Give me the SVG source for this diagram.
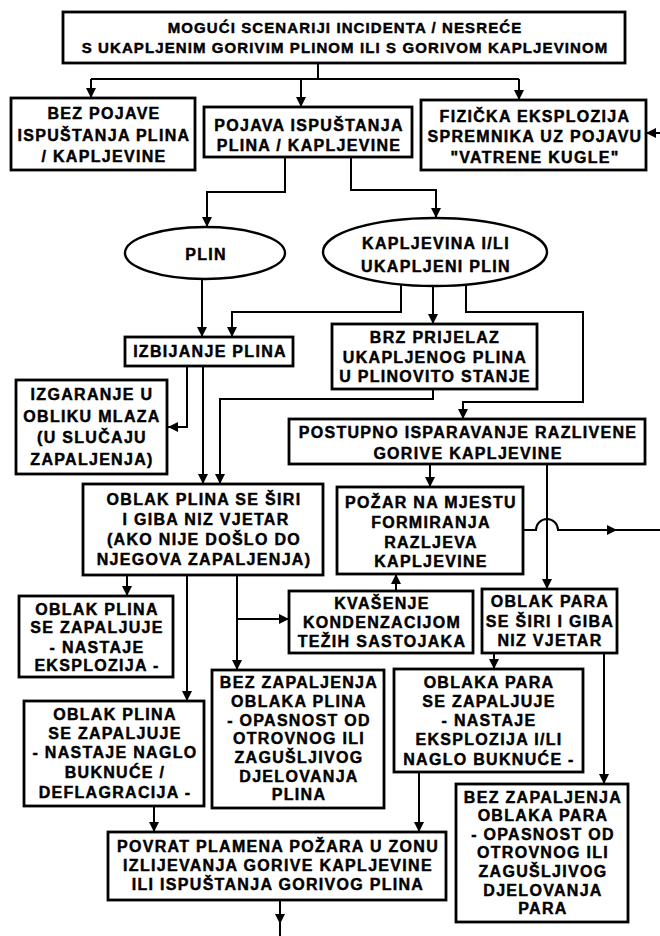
<svg xmlns="http://www.w3.org/2000/svg" width="660" height="936" viewBox="0 0 660 936">
<defs>
<style>
.b{fill:#fff;stroke:#000;stroke-width:2.8}
.e{fill:#fff;stroke:#000;stroke-width:2.4}
.c{fill:none;stroke:#000;stroke-width:2}
text{font-family:"Liberation Sans",Arial,sans-serif;font-weight:bold;font-size:16px;letter-spacing:1.3px;text-anchor:middle;fill:#000;stroke:#000;stroke-width:0.45px}
.t{font-size:15px;letter-spacing:1.1px}
</style>
<marker id="a" viewBox="0 0 10 10" refX="10" refY="5" markerWidth="10" markerHeight="11" markerUnits="userSpaceOnUse" orient="auto">
<path d="M0,0 L10,5 L0,10 z" fill="#000"/>
</marker>
</defs>
<rect width="660" height="936" fill="#fff"/>
<g id="connectors" class="c">
<path d="M318,63 V79 M91,79 H519"/>
<path d="M91,79 V98" marker-end="url(#a)"/>
<path d="M301,79 V107" marker-end="url(#a)"/>
<path d="M519,79 V100" marker-end="url(#a)"/>
<path d="M660,133 H646" marker-end="url(#a)"/>
<path d="M285,157 V192 H207 V227" marker-end="url(#a)"/>
<path d="M351,157 V190 H436 V218" marker-end="url(#a)"/>
<path d="M202,279 V337" marker-end="url(#a)"/>
<path d="M401,284 V312 H232 V337" marker-end="url(#a)"/>
<path d="M433,286 V324" marker-end="url(#a)"/>
<path d="M466,284 V312 H583 V402 H463 V419" marker-end="url(#a)"/>
<path d="M187,366 V427 H168" marker-end="url(#a)"/>
<path d="M203,366 V484" marker-end="url(#a)"/>
<path d="M433,389 V399 H220 V484" marker-end="url(#a)"/>
<path d="M430,464 V487" marker-end="url(#a)"/>
<path d="M547,464 V589" marker-end="url(#a)"/>
<path d="M523,530 H536 A11,11 0 0 1 558,530 H617" marker-end="url(#a)"/>
<path d="M617,530 H660"/>
<path d="M396,591 V574" marker-end="url(#a)"/>
<path d="M127,575 V596" marker-end="url(#a)"/>
<path d="M187,575 V701" marker-end="url(#a)"/>
<path d="M237,575 V670" marker-end="url(#a)"/>
<path d="M237,619 H289" marker-end="url(#a)"/>
<path d="M494,653 V669" marker-end="url(#a)"/>
<path d="M604,653 V784" marker-end="url(#a)"/>
<path d="M419,772 V832" marker-end="url(#a)"/>
<path d="M154,806 V832" marker-end="url(#a)"/>
<path d="M280,900 V924" marker-end="url(#a)"/>
<path d="M280,920 V936"/>
</g>
<g id="title">
<rect class="b" x="63" y="12" width="562" height="51"/>
<text class="t" x="345" y="33">MOGUĆI SCENARIJI INCIDENTA / NESREĆE</text>
<text class="t" x="345" y="53">S UKAPLJENIM GORIVIM PLINOM ILI S GORIVOM KAPLJEVINOM</text>
</g>
<g id="bez-pojave">
<rect class="b" x="11" y="98" width="184" height="72"/>
<text x="104" y="119">BEZ POJAVE</text>
<text x="104" y="141">ISPUŠTANJA PLINA</text>
<text x="104" y="162">/ KAPLJEVINE</text>
</g>
<g id="pojava">
<rect class="b" x="204" y="107" width="208" height="50"/>
<text x="309" y="131">POJAVA ISPUŠTANJA</text>
<text x="309" y="151">PLINA / KAPLJEVINE</text>
</g>
<g id="fizicka">
<rect class="b" x="421" y="100" width="225" height="70"/>
<text x="535" y="122">FIZIČKA EKSPLOZIJA</text>
<text x="535" y="142">SPREMNIKA UZ POJAVU</text>
<text x="535" y="163">"VATRENE KUGLE"</text>
</g>
<g id="plin">
<ellipse class="e" cx="205" cy="253" rx="80" ry="26"/>
<text x="206" y="260">PLIN</text>
</g>
<g id="kapljevina">
<ellipse class="e" cx="435" cy="252" rx="112" ry="34"/>
<text x="436" y="249">KAPLJEVINA I/LI</text>
<text x="436" y="272">UKAPLJENI PLIN</text>
</g>
<g id="izbijanje">
<rect class="b" x="125" y="337" width="168" height="29"/>
<text x="210" y="357">IZBIJANJE PLINA</text>
</g>
<g id="brz">
<rect class="b" x="332" y="324" width="205" height="65"/>
<text x="435" y="343">BRZ PRIJELAZ</text>
<text x="435" y="363">UKAPLJENOG PLINA</text>
<text x="435" y="382">U PLINOVITO STANJE</text>
</g>
<g id="izgaranje">
<rect class="b" x="16" y="380" width="151" height="94"/>
<text x="92" y="400">IZGARANJE U</text>
<text x="92" y="422">OBLIKU MLAZA</text>
<text x="92" y="443">(U SLUČAJU</text>
<text x="92" y="465">ZAPALJENJA)</text>
</g>
<g id="postupno">
<rect class="b" x="289" y="419" width="356" height="45"/>
<text x="468" y="438">POSTUPNO ISPARAVANJE RAZLIVENE</text>
<text x="468" y="459">GORIVE KAPLJEVINE</text>
</g>
<g id="oblak-plina">
<rect class="b" x="83" y="484" width="240" height="91"/>
<text x="204" y="505">OBLAK PLINA SE ŠIRI</text>
<text x="206" y="525">I GIBA NIZ VJETAR</text>
<text x="204" y="545">(AKO NIJE DOŠLO DO</text>
<text x="204" y="565">NJEGOVA ZAPALJENJA)</text>
</g>
<g id="pozar">
<rect class="b" x="337" y="487" width="186" height="87"/>
<text x="431" y="508">POŽAR NA MJESTU</text>
<text x="431" y="528">FORMIRANJA</text>
<text x="431" y="548">RAZLJEVA</text>
<text x="431" y="567">KAPLJEVINE</text>
</g>
<g id="kvasenje">
<rect class="b" x="289" y="591" width="184" height="62"/>
<text x="382" y="609">KVAŠENJE</text>
<text x="382" y="628">KONDENZACIJOM</text>
<text x="382" y="647">TEŽIH SASTOJAKA</text>
</g>
<g id="oblak-para">
<rect class="b" x="482" y="589" width="135" height="64"/>
<text x="550" y="607">OBLAK PARA</text>
<text x="550" y="627">SE ŠIRI I GIBA</text>
<text x="550" y="646">NIZ VJETAR</text>
</g>
<g id="eksplozija">
<rect class="b" x="19" y="596" width="154" height="81"/>
<text x="97" y="615">OBLAK PLINA</text>
<text x="97" y="633">SE ZAPALJUJE</text>
<text x="97" y="653">- NASTAJE</text>
<text x="97" y="671">EKSPLOZIJA -</text>
</g>
<g id="naglo">
<rect class="b" x="24" y="701" width="180" height="105"/>
<text x="115" y="720">OBLAK PLINA</text>
<text x="115" y="739">SE ZAPALJUJE</text>
<text x="115" y="758">- NASTAJE NAGLO</text>
<text x="115" y="778">BUKNUĆE /</text>
<text x="115" y="798">DEFLAGRACIJA -</text>
</g>
<g id="bez-plina">
<rect class="b" x="212" y="670" width="172" height="138"/>
<text x="299" y="688">BEZ ZAPALJENJA</text>
<text x="299" y="707">OBLAKA PLINA</text>
<text x="299" y="726">- OPASNOST OD</text>
<text x="299" y="744">OTROVNOG ILI</text>
<text x="299" y="763">ZAGUŠLJIVOG</text>
<text x="299" y="782">DJELOVANJA</text>
<text x="299" y="800">PLINA</text>
</g>
<g id="para-zapaljuje">
<rect class="b" x="394" y="669" width="189" height="103"/>
<text x="489" y="688">OBLAKA PARA</text>
<text x="489" y="707">SE ZAPALJUJE</text>
<text x="489" y="726">- NASTAJE</text>
<text x="489" y="745">EKSPLOZIJA I/LI</text>
<text x="489" y="765">NAGLO BUKNUĆE -</text>
</g>
<g id="povrat">
<rect class="b" x="108" y="832" width="338" height="68"/>
<text x="278" y="852">POVRAT PLAMENA POŽARA U ZONU</text>
<text x="278" y="871">IZLIJEVANJA GORIVE KAPLJEVINE</text>
<text x="278" y="890">ILI ISPUŠTANJA GORIVOG PLINA</text>
</g>
<g id="bez-para">
<rect class="b" x="456" y="784" width="172" height="138"/>
<text x="543" y="803">BEZ ZAPALJENJA</text>
<text x="543" y="821">OBLAKA PARA</text>
<text x="543" y="840">- OPASNOST OD</text>
<text x="543" y="858">OTROVNOG ILI</text>
<text x="543" y="877">ZAGUŠLJIVOG</text>
<text x="543" y="896">DJELOVANJA</text>
<text x="543" y="914">PARA</text>
</g>
</svg>
